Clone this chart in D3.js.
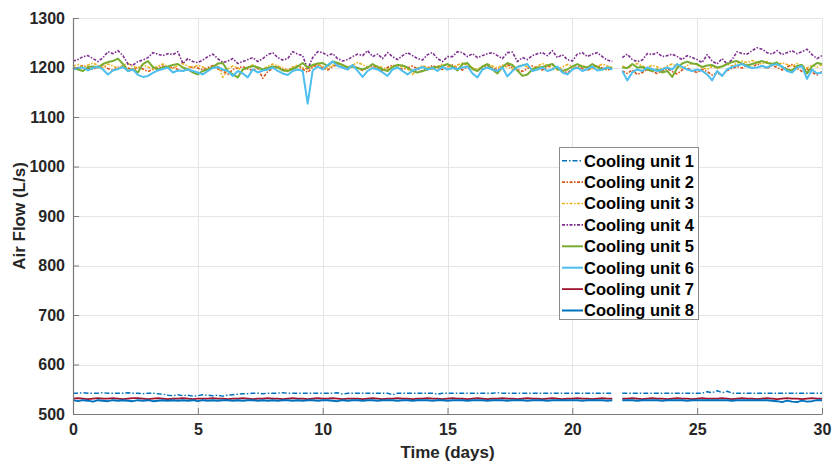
<!DOCTYPE html>
<html>
<head>
<meta charset="utf-8">
<script src="https://cdn.jsdelivr.net/npm/d3@7"></script>
<style>
  html, body { margin: 0; padding: 0; background: #fff; }
  svg { display: block; font-family: "Liberation Sans", Arial, sans-serif; }
</style>
</head>
<body>
<svg id="chart" width="832" height="463"></svg>
<script>
// Sampling interval of the air-flow logger, in days (null marks a logging gap)
const stepDays = 0.2;
const sampleCount = 151;

const unitNames = ["Cooling unit 1", "Cooling unit 2", "Cooling unit 3", "Cooling unit 4",
                   "Cooling unit 5", "Cooling unit 6", "Cooling unit 7", "Cooling unit 8"];

const xTicks = [0, 5, 10, 15, 20, 25, 30];
const yTicks = [500, 600, 700, 800, 900, 1000, 1100, 1200, 1300];

// Air flow per unit (L/s)
const unit1 = [
  542,542,543,542,542,542,543,542,542,542, 542,543,542,542,541,542,542,541,540,538,
  537,539,537,538,536,537,539,538,537,538, 536,538,539,540,541,541,542,542,541,542,
  542,542,543,542,542,542,542,542,542,542, 542,542,542,543,540,542,542,542,542,542,
  542,542,542,542,539,542,542,542,542,542, 542,542,542,540,542,542,542,542,542,542,
  542,542,542,542,542,543,542,542,542,542, 542,542,542,542,542,542,542,542,542,542,
  542,542,542,542,542,542,542,542,542,null, 542,542,542,542,542,542,542,542,542,542,
  542,542,542,542,542,542,542,545,543,547, 543,546,542,542,542,542,542,542,542,542,
  542,542,542,542,542,542,542,542,542,542, 542];

const unit2 = [
  1197,1200,1204,1199,1196,1202,1205,1198,1194,1200, 1203,1199,1195,1201,1197,1192,1196,1200,1203,1198,
  1201,1196,1193,1198,1202,1199,1195,1200,1204,1197, 1193,1186,1196,1199,1202,1197,1194,1199,1178,1192,
  1198,1201,1196,1192,1199,1203,1197,1190,1201,1205, 1199,1195,1202,1206,1200,1196,1203,1199,1194,1200,
  1204,1198,1193,1200,1205,1201,1196,1199,1203,1197, 1192,1199,1204,1200,1196,1201,1205,1199,1195,1202,
  1198,1193,1200,1204,1199,1195,1201,1206,1200,1196, 1192,1198,1203,1199,1195,1201,1205,1198,1194,1189,
  1197,1202,1198,1194,1200,1204,1199,1195,1198,null, 1193,1188,1195,1186,1190,1196,1192,1188,1194,1198,
  1192,1187,1195,1199,1193,1190,1196,1192,1185,1189, 1184,1194,1198,1202,1199,1204,1200,1207,1203,1198,
  1204,1200,1195,1201,1206,1198,1192,1197,1190,1185, 1192];

const unit3 = [
  1203,1206,1201,1205,1209,1204,1200,1207,1203,1198, 1204,1208,1202,1199,1205,1201,1197,1203,1207,1202,
  1198,1204,1208,1203,1199,1205,1201,1196,1202,1206, 1180,1197,1203,1199,1194,1200,1205,1201,1196,1202,
  1207,1203,1199,1195,1201,1205,1200,1196,1203,1207, 1202,1198,1204,1209,1206,1201,1205,1210,1206,1201,
  1197,1203,1200,1196,1202,1206,1201,1197,1186,1199, 1204,1200,1196,1202,1207,1203,1199,1205,1209,1204,
  1200,1196,1202,1207,1203,1199,1205,1201,1196,1202, 1206,1201,1197,1203,1208,1204,1199,1195,1201,1206,
  1202,1198,1204,1200,1196,1202,1207,1203,1199,null, 1203,1198,1204,1208,1203,1199,1205,1201,1197,1203,
  1207,1202,1198,1204,1209,1205,1200,1196,1202,1198, 1203,1207,1203,1209,1213,1210,1214,1211,1207,1212,
  1208,1204,1210,1206,1202,1208,1204,1199,1205,1201, 1206];

const unit4 = [
  1213,1216,1222,1224,1218,1212,1220,1232,1228,1234, 1224,1207,1205,1212,1215,1220,1230,1227,1224,1228,
  1226,1232,1208,1218,1212,1210,1215,1222,1227,1218, 1210,1213,1218,1208,1212,1216,1220,1212,1218,1226,
  1230,1220,1215,1218,1232,1227,1224,1196,1220,1232, 1230,1224,1228,1218,1213,1216,1222,1227,1224,1234,
  1222,1227,1218,1230,1222,1216,1224,1230,1224,1218, 1215,1226,1230,1218,1212,1222,1222,1232,1230,1222,
  1228,1220,1224,1228,1230,1224,1218,1230,1231,1212, 1220,1216,1224,1228,1230,1224,1234,1220,1226,1216,
  1213,1227,1230,1222,1227,1230,1222,1215,1212,null, 1220,1227,1216,1212,1215,1228,1226,1230,1222,1224,
  1227,1222,1216,1224,1220,1216,1210,1226,1213,1207, 1218,1207,1216,1232,1228,1227,1234,1240,1237,1230,
  1227,1234,1226,1230,1234,1228,1232,1237,1226,1218, 1224];

const unit5 = [
  1199,1196,1193,1201,1202,1200,1207,1211,1213,1218, 1207,1193,1197,1190,1207,1213,1201,1196,1200,1202,
  1205,1207,1200,1196,1190,1186,1193,1196,1201,1208, 1209,1193,1186,1180,1196,1200,1203,1200,1196,1199,
  1202,1200,1194,1193,1197,1202,1209,1200,1205,1208, 1209,1203,1212,1209,1205,1200,1202,1199,1196,1200,
  1207,1201,1196,1193,1201,1205,1204,1200,1193,1190, 1193,1196,1200,1201,1203,1207,1202,1194,1207,1209,
  1197,1193,1202,1207,1196,1188,1201,1209,1205,1194, 1183,1186,1196,1200,1201,1204,1207,1197,1193,1196,
  1202,1207,1202,1200,1207,1201,1196,1199,1200,null, 1200,1199,1207,1200,1201,1196,1193,1196,1190,1193,
  1181,1199,1208,1212,1208,1207,1201,1204,1205,1200, 1202,1207,1211,1213,1208,1204,1207,1210,1213,1209,
  1207,1210,1201,1196,1194,1203,1205,1188,1202,1209, 1207];

const unit6 = [
  1196,1199,1200,1194,1199,1202,1196,1186,1194,1197, 1201,1193,1196,1185,1181,1183,1189,1194,1197,1200,
  1190,1194,1193,1196,1193,1190,1186,1193,1199,1201, 1196,1193,1183,1193,1188,1180,1196,1190,1194,1196,
  1200,1193,1188,1185,1193,1196,1193,1127,1194,1202, 1196,1205,1212,1203,1200,1196,1205,1193,1181,1193,
  1199,1196,1190,1183,1196,1200,1193,1186,1194,1197, 1201,1196,1199,1193,1201,1196,1199,1197,1200,1202,
  1188,1180,1196,1200,1196,1193,1200,1182,1193,1201, 1204,1207,1193,1196,1200,1193,1196,1202,1190,1186,
  1196,1200,1193,1197,1202,1194,1196,1200,1196,null, 1193,1174,1190,1196,1193,1200,1197,1193,1196,1200,
  1196,1207,1201,1196,1193,1196,1193,1186,1174,1193, 1183,1196,1201,1204,1207,1202,1199,1200,1203,1200,
  1205,1207,1202,1193,1190,1200,1203,1177,1196,1188, 1190];

const unit7 = [
  531,532,531,530,531,532,531,531,532,531, 530,531,532,532,531,530,531,532,531,530,
  531,531,532,531,530,531,531,531,532,531, 531,530,531,531,532,531,530,531,531,532,
  531,531,530,531,532,531,531,530,531,532, 531,531,532,531,530,531,531,531,530,531,
  532,531,530,531,531,532,531,531,530,531, 531,532,531,531,530,531,532,531,531,530,
  531,532,531,530,531,531,532,531,531,530, 531,532,531,531,530,531,532,531,530,531,
  531,532,531,531,530,531,532,531,531,null, 531,531,532,531,530,531,532,531,531,530,
  531,532,531,531,530,531,532,531,531,531, 532,531,530,531,532,531,531,530,531,532,
  531,530,531,532,531,531,530,531,532,531, 531];

const unit8 = [
  528,526,528,527,525,528,527,526,528,527, 528,527,526,528,527,528,526,527,528,527,
  528,527,528,527,528,526,528,527,528,527, 528,528,527,528,527,528,528,527,528,527,
  528,527,528,528,527,528,527,528,528,527, 528,528,527,526,528,527,528,528,527,528,
  528,527,528,528,528,527,528,528,527,528, 528,528,527,528,528,527,528,528,528,527,
  528,528,528,527,528,528,528,527,528,528, 528,527,528,528,528,527,528,528,528,528,
  528,528,527,528,528,528,528,527,528,null, 528,528,528,527,528,528,528,528,527,528,
  528,528,528,527,528,528,528,528,528,528, 528,528,527,528,528,528,528,528,528,528,
  527,526,524,527,525,524,527,525,526,528, 528];

const unitValues = [unit1, unit2, unit3, unit4, unit5, unit6, unit7, unit8];
const unitColors = ["#0072BD", "#D95319", "#EDB120", "#7E2F8E", "#77AC30", "#4DBEEE", "#A2142F", "#0072BD"];
const unitDash = ["5,2,1.5,2", "3,1.5,1.5,1.5", "3,1.5,1.5,1.5", "3,1.5,1.5,1.5", null, null, null, null];
const unitWidth = [1.4, 1.6, 1.6, 1.6, 2, 2, 1.8, 2];

const times = d3.range(sampleCount).map(i => +(i * stepDays).toFixed(2));

const svg = d3.select("#chart");
const margin = { left: 73, right: 10, top: 18, bottom: 49 };
const W = 832, H = 463;

const x = d3.scaleLinear().domain([0, 30]).range([margin.left, W - margin.right]);
const y = d3.scaleLinear().domain([500, 1300]).range([H - margin.bottom, margin.top]);

// grid
const grid = svg.append("g").attr("stroke", "#e5e5e5").attr("stroke-width", 1);
grid.selectAll(".gx").data(xTicks).join("line")
  .attr("x1", d => Math.round(x(d)) + 0.5).attr("x2", d => Math.round(x(d)) + 0.5)
  .attr("y1", y(1300)).attr("y2", y(500));
grid.selectAll(".gy").data(yTicks).join("line")
  .attr("y1", d => Math.round(y(d)) + 0.5).attr("y2", d => Math.round(y(d)) + 0.5)
  .attr("x1", x(0)).attr("x2", x(30));

// series
const line = d3.line()
  .defined(d => d.v != null)
  .x(d => x(d.t))
  .y(d => y(d.v));

const plot = svg.append("g");
unitValues.forEach((vals, i) => {
  plot.append("path")
    .datum(vals.map((v, k) => ({ t: times[k], v })))
    .attr("fill", "none")
    .attr("stroke", unitColors[i])
    .attr("stroke-width", unitWidth[i])
    .attr("stroke-linejoin", "round")
    .attr("stroke-dasharray", unitDash[i])
    .attr("d", line);
});

// axes (ticks point inward)
const axisColor = "#7a7a7a";
const xAxis = svg.append("g")
  .attr("transform", `translate(0,${y(500)})`)
  .call(d3.axisBottom(x).tickValues(xTicks).tickFormat(d3.format("d"))
    .tickSizeInner(-6).tickSizeOuter(0).tickPadding(10));
const yAxis = svg.append("g")
  .attr("transform", `translate(${x(0)},0)`)
  .call(d3.axisLeft(y).tickValues(yTicks).tickFormat(d3.format("d"))
    .tickSizeInner(-6).tickSizeOuter(0).tickPadding(8));

[xAxis, yAxis].forEach(a => {
  a.select(".domain").attr("stroke", axisColor).attr("stroke-width", 1.2);
  a.selectAll(".tick line").attr("stroke", axisColor);
  a.selectAll(".tick text")
    .attr("fill", "#262626")
    .style("font-size", "16px")
    .style("font-weight", "bold")
    .style("font-family", "'Liberation Sans', Arial, sans-serif");
});

// axis titles
svg.append("text")
  .attr("x", x(15)).attr("y", 458)
  .attr("text-anchor", "middle")
  .style("font-size", "17px").style("font-weight", "bold").attr("fill", "#262626")
  .text("Time (days)");
svg.append("text")
  .attr("transform", `translate(25,${y(900)}) rotate(-90)`)
  .attr("text-anchor", "middle")
  .style("font-size", "17px").style("font-weight", "bold").attr("fill", "#262626")
  .text("Air Flow (L/s)");

// legend
const lg = svg.append("g").attr("transform", "translate(559,147)");
lg.append("rect")
  .attr("x", 0.5).attr("y", 0.5).attr("width", 139).attr("height", 172)
  .attr("fill", "#fff").attr("stroke", "#8c8c8c").attr("stroke-width", 1);
const rowH = 21.4;
unitNames.forEach((name, i) => {
  const cy = 13.7 + i * rowH;
  lg.append("line")
    .attr("x1", 3).attr("x2", 24).attr("y1", cy).attr("y2", cy)
    .attr("stroke", unitColors[i])
    .attr("stroke-width", unitWidth[i])
    .attr("stroke-dasharray", unitDash[i]);
  lg.append("text")
    .attr("x", 25).attr("y", cy).attr("dy", "0.36em")
    .style("font-size", "16.5px").style("font-weight", "bold").attr("fill", "#000")
    .text(name);
});
</script>
</body>
</html>
